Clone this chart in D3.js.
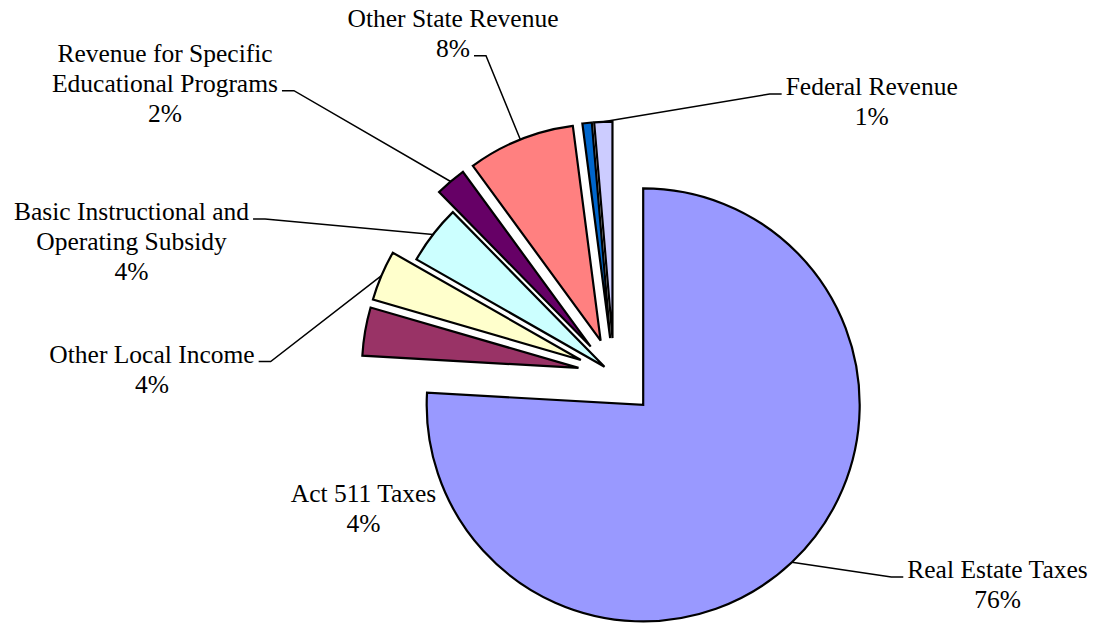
<!DOCTYPE html>
<html>
<head>
<meta charset="utf-8">
<script src="https://cdn.jsdelivr.net/npm/d3@7"></script>
<style>
  html, body { margin: 0; padding: 0; background: #ffffff; }
  svg { display: block; }
  .lbl { font-family: "Liberation Serif", "DejaVu Serif", serif; font-size: 25.5px; fill: #000; }
</style>
</head>
<body>
<svg id="chart" width="1095" height="624"></svg>
<script>
// Revenue sources (share of total, percent)
const categories = [
  "Real Estate Taxes",
  "Act 511 Taxes",
  "Other Local Income",
  "Basic Instructional and Operating Subsidy",
  "Revenue for Specific Educational Programs",
  "Other State Revenue",
  "Other Sources",
  "Federal Revenue"
];
const shares = [75.9, 3.6, 3.75, 4.4, 2.3, 8.0, 0.7, 1.35];
const showLabel = [true, true, true, true, true, true, false, true];

// Styling and layout
const colors = ["#9999FF", "#993366", "#FFFFCC", "#CCFFFF", "#660066", "#FF8080", "#0066CC", "#CCCCFF"];
const explodeOffsets = [42.5, 36, 36, 12, 36, 36, 36, 36];
const firstLineWords = [null, null, null, 3, 3, null, null, null];
// label centre x, first baseline y, which line the leader attaches to and on which side
const labelLayout = [
  { x: 997.5, y: 578, line: 0, side: "left" },
  { x: 363.5, y: 501.5, line: null, side: null },
  { x: 152, y: 362.5, line: 0, side: "right" },
  { x: 131.5, y: 220, line: 0, side: "right" },
  { x: 165, y: 61.7, line: 1, side: "right" },
  { x: 453, y: 26.7, line: 1, side: "right" },
  null,
  { x: 871.7, y: 95, line: 0, side: "left" }
];

const center = { x: 614, y: 374 };
const radius = 216.5;
const lineGap = 30;

const svg = d3.select("#chart");
const total = d3.sum(shares);
const pct = d3.format(".0%");

const pie = d3.pie().sort(null).value(d => d)(shares);
const arc = d3.arc().innerRadius(0).outerRadius(radius);

const g = svg.append("g").attr("transform", `translate(${center.x},${center.y})`);

// Slices, each pulled out along its bisector
g.selectAll("path.slice")
  .data(pie)
  .join("path")
  .attr("class", "slice")
  .attr("d", arc)
  .attr("transform", (d, i) => {
    const mid = (d.startAngle + d.endAngle) / 2;
    const e = explodeOffsets[i];
    return `translate(${e * Math.sin(mid)},${-e * Math.cos(mid)})`;
  })
  .attr("fill", (d, i) => colors[i])
  .attr("stroke", "#000")
  .attr("stroke-width", 2.2)
  .attr("stroke-linejoin", "miter");

// Labels and leader lines
const labels = svg.append("g");
const leaders = svg.append("g");

pie.forEach((d, i) => {
  if (!showLabel[i]) return;
  const lay = labelLayout[i];
  const words = categories[i].split(" ");
  const nameLines = firstLineWords[i]
    ? [words.slice(0, firstLineWords[i]).join(" "), words.slice(firstLineWords[i]).join(" ")]
    : [categories[i]];
  const lines = nameLines.concat([pct(shares[i] / total)]);

  const texts = lines.map((t, k) =>
    labels.append("text")
      .attr("class", "lbl")
      .attr("x", lay.x)
      .attr("y", lay.y + k * lineGap)
      .attr("text-anchor", "middle")
      .text(t)
  );

  if (lay.line === null) return;
  const tNode = texts[lay.line].node();
  const w = tNode.getComputedTextLength();
  const ly = lay.y + lay.line * lineGap - 1;
  const dir = lay.side === "left" ? -1 : 1;
  const edge = lay.x + dir * (w / 2 + 4);
  const elbow = edge + dir * 12;

  const mid = (d.startAngle + d.endAngle) / 2;
  const rr = radius + explodeOffsets[i];
  const ax = center.x + rr * Math.sin(mid);
  const ay = center.y - rr * Math.cos(mid);

  leaders.append("path")
    .attr("d", d3.line()([[ax, ay], [elbow, ly], [edge, ly]]))
    .attr("fill", "none")
    .attr("stroke", "#000")
    .attr("stroke-width", 1.5);
});
</script>
</body>
</html>
